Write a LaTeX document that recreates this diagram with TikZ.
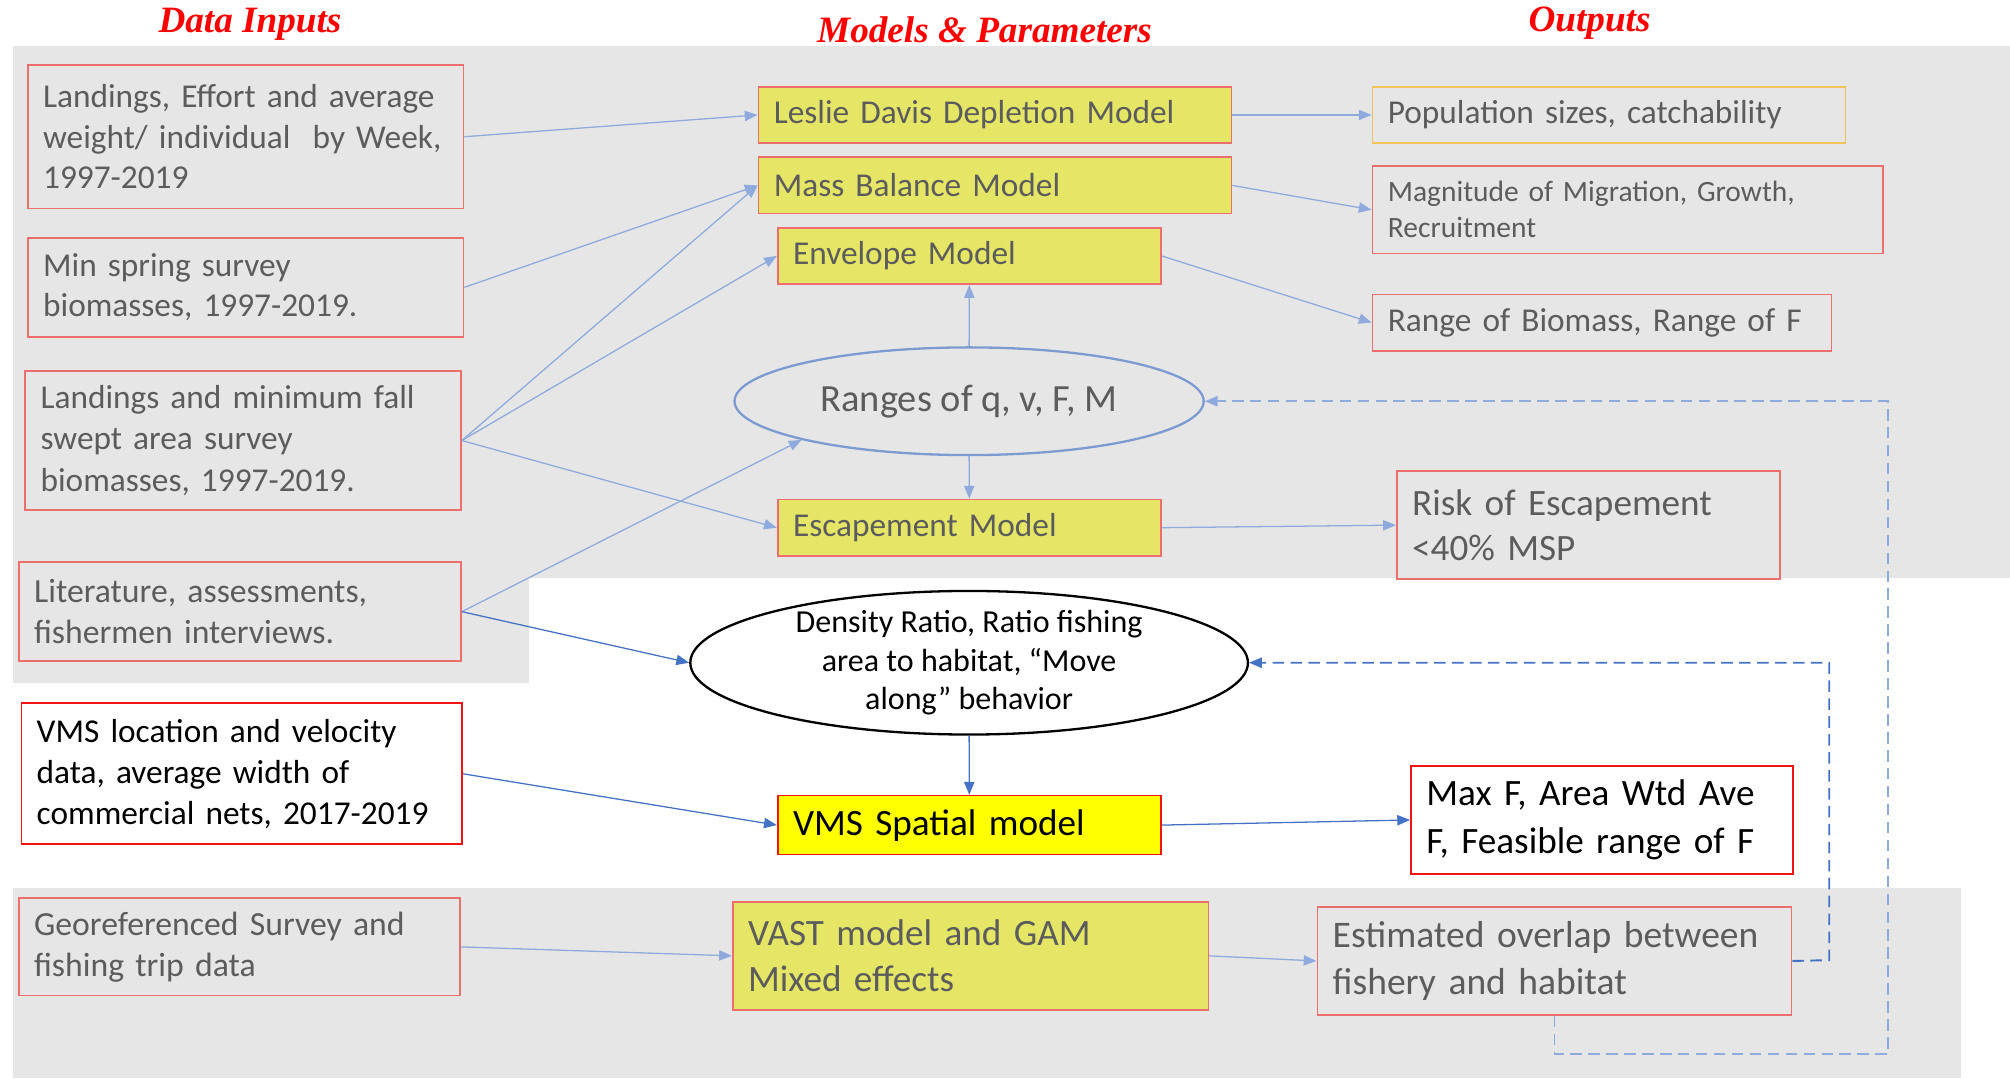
\documentclass[tikz,border=0pt]{standalone}
\usepackage{fontspec}
\setmainfont{Carlito}
\newfontfamily\ttlfont{Liberation Serif}
\usetikzlibrary{arrows.meta,shapes.geometric}

\definecolor{bg}{RGB}{230,230,230}
\definecolor{boxred}{RGB}{236,110,110}
\definecolor{purered}{RGB}{240,20,20}
\definecolor{ylw}{RGB}{230,230,102}
\definecolor{brightylw}{RGB}{255,255,0}
\definecolor{txtgray}{RGB}{92,92,92}
\definecolor{lineblue}{RGB}{143,170,220}
\definecolor{ellblue}{RGB}{125,155,208}
\definecolor{darkblue}{RGB}{68,114,196}
\definecolor{orng}{RGB}{240,196,90}
\definecolor{ttlred}{RGB}{255,0,0}

\tikzset{
  fs/.style 2 args={font=\fontsize{#1}{#2}\selectfont},
  ttl/.style={font=\ttlfont\bfseries\itshape\fontsize{29}{32}\selectfont, text=ttlred, inner sep=0},
  basebox/.style={rectangle, anchor=north west, inner xsep=12pt, inner ysep=0pt,
                  align=left, line width=1.3pt},
  graybox/.style={basebox, draw=boxred, text=txtgray},
  whitebox/.style={basebox, draw=purered, fill=white, text=black},
  modelbox/.style={basebox, draw=boxred, fill=ylw, text=txtgray},
  link/.style={draw=lineblue, line width=1pt, -{Triangle[length=10pt,width=8pt]}},
  darklink/.style={draw=darkblue, line width=1pt, -{Triangle[length=10pt,width=8pt]}},
  loop/.style={line width=1.5pt, dash pattern=on 9pt off 5pt, -{Triangle[length=10pt,width=8pt]}},
}

\begin{document}
\begin{tikzpicture}[x=1pt,y=-1pt]
\useasboundingbox (0,0) rectangle (1568,841);

% shaded bands
\fill[bg] (10,36) rectangle (1568,451);
\fill[bg] (10,451) rectangle (413,533);
\fill[bg] (10,693) rectangle (1530,841);

% column headings
\node[ttl] (hIn)  at (195,19) {Data Inputs};
\node[ttl] (hMod) at (768,23) {Models \& Parameters};
\node[ttl] (hOut) at (1240,18) {Outputs};

% data inputs
\node[graybox, fs={26}{31.5}, minimum width=340pt, minimum height=112pt, text width=316pt]
  (landW) at (21,50) {Landings, Effort and average\\weight/ individual\ \ by Week,\\1997-2019};
\node[graybox, fs={26}{31.5}, minimum width=340pt, minimum height=77pt, text width=316pt]
  (spring) at (21,185) {Min spring survey\\biomasses, 1997-2019.};
\node[graybox, fs={26}{32.5}, minimum width=340pt, minimum height=108pt, text width=316pt]
  (fall) at (19,289) {Landings and minimum fall\\swept area survey\\biomasses, 1997-2019.};
\node[graybox, fs={26.3}{32}, minimum width=345pt, minimum height=77pt, text width=321pt]
  (lit) at (14,438) {Literature, assessments,\\fishermen interviews.};
\node[whitebox, fs={26}{32}, minimum width=344pt, minimum height=110pt, text width=320pt]
  (vmsdata) at (16,548) {VMS location and velocity\\data, average width of\\commercial nets, 2017-2019};
\node[graybox, fs={26.3}{32}, minimum width=344pt, minimum height=76pt, text width=320pt]
  (geo) at (14,700) {Georeferenced Survey and\\fishing trip data};

% models
\node[modelbox, fs={26}{31}, minimum width=369pt, minimum height=44pt, text width=345pt]
  (leslie) at (591,67) {Leslie Davis Depletion Model};
\node[modelbox, fs={26}{31}, minimum width=369pt, minimum height=44pt, text width=345pt]
  (mass) at (591,122) {Mass Balance Model};
\node[modelbox, fs={26}{31}, minimum width=299pt, minimum height=44pt, text width=275pt]
  (env) at (606,177) {Envelope Model};
\node[ellipse, draw=ellblue, line width=1.8pt, inner sep=0pt, minimum width=366pt,
      minimum height=84pt, text=txtgray, fs={30}{34}]
  (ranges) at (756,313) {Ranges of q, v, F, M};
\node[modelbox, fs={26}{31}, minimum width=299pt, minimum height=44pt, text width=275pt]
  (esc) at (606,389) {Escapement Model};
\node[ellipse, draw=black, line width=1.8pt, fill=white, inner sep=0pt,
      minimum width=435pt, minimum height=112pt]
  (dens) at (756,517) {};
\node[align=center, fs={25}{30}, text=black, inner sep=0pt]
  (denstxt) at (dens.center) {Density Ratio, Ratio fishing\\area to habitat, ``Move\\along'' behavior};
\node[basebox, draw=purered, fill=brightylw, text=black, fs={29}{33},
      minimum width=299pt, minimum height=46pt, text width=275pt]
  (vmssp) at (606,620) {VMS Spatial model};
\node[modelbox, fs={29}{36}, minimum width=371pt, minimum height=84pt, text width=347pt]
  (vast) at (571,703) {VAST model and GAM\\Mixed effects};

% outputs
\node[basebox, draw=orng, text=txtgray, fs={26}{31}, minimum width=369pt,
      minimum height=44pt, text width=345pt]
  (pop) at (1070,67) {Population sizes, catchability};
\node[graybox, fs={23}{28}, minimum width=398pt, minimum height=68pt, text width=374pt]
  (mag) at (1070,129) {Magnitude of Migration, Growth,\\Recruitment};
\node[graybox, fs={26}{31}, minimum width=358pt, minimum height=44pt, text width=334pt]
  (rng) at (1070,229) {Range of Biomass, Range of F};
\node[graybox, fs={29}{35}, minimum width=299pt, minimum height=84pt, text width=275pt]
  (risk) at (1089,367) {Risk of Escapement\\<40\% MSP};
\node[whitebox, fs={29}{37}, minimum width=298pt, minimum height=84pt, text width=274pt]
  (maxf) at (1100,597) {Max F, Area Wtd Ave\\F, Feasible range of F};
\node[graybox, fs={29.3}{36}, minimum width=370pt, minimum height=84pt, text width=346pt]
  (est) at (1027,707) {Estimated overlap between\\fishery and habitat};

% inputs to models
\draw[link] (landW.east) -- (leslie.west);
\draw[link] (spring.east) -- (mass.west);
\draw[link] (fall.east) -- (mass.west);
\draw[link] (fall.east) -- (env.west);
\draw[link] (fall.east) -- (esc.west);
\draw[link] (lit.east) -- (ranges.193);
\draw[darklink] (lit.east) -- (dens.west);
\draw[darklink] (vmsdata.east) -- (vmssp.west);
\draw[link] (geo.east) -- (vast.west);

% model chain
\draw[link] (ranges.north) -- (env.south);
\draw[link] (ranges.south) -- (esc.north);
\draw[darklink] (dens.south) -- (vmssp.north);

% models to outputs
\draw[link] (leslie.east) -- (pop.west);
\draw[link] (mass.east) -- (mag.west);
\draw[link] (env.east) -- (rng.west);
\draw[link] (esc.east) -- (risk.west);
\draw[darklink] (vmssp.east) -- (maxf.west);
\draw[link] (vast.east) -- (est.west);

% feedback loops
\coordinate (fbA) at (1427,749);
\coordinate (fbB) at (1473,822);
\draw[loop, draw=darkblue] (est.east) -- (fbA) |- (dens.east);
\draw[loop, draw=lineblue] (est.south) |- (fbB) |- (ranges.east);
\end{tikzpicture}
\end{document}
